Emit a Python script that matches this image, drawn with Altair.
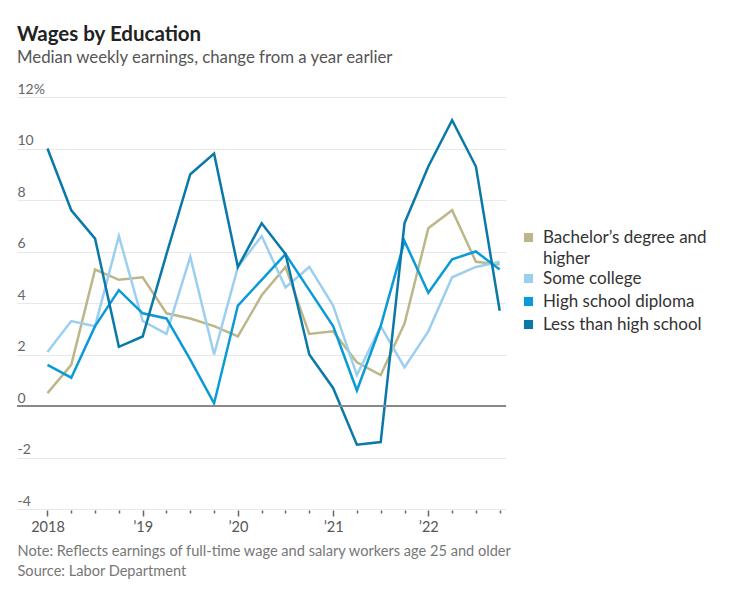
import altair as alt
import pandas as pd

# Quarterly, 2018 Q1 .. 2022 Q4
years = [2018, 2019, 2020, 2021, 2022]
quarters = [0, 1, 2, 3]
series_names = ["Bachelor’s degree and higher", "Some college",
                "High school diploma", "Less than high school"]
colors = ["#bdb689", "#9ccfef", "#0b9ad8", "#0a79a9"]

bachelor = [0.5, 1.6, 5.3, 4.9, 5.0, 3.6, 3.4, 3.1, 2.7, 4.3,
            5.4, 2.8, 2.9, 1.7, 1.2, 3.2, 6.9, 7.6, 5.6, 5.5]
some_college = [2.1, 3.3, 3.1, 6.6, 3.3, 2.8, 5.8, 2.0, 5.4, 6.6,
                4.6, 5.4, 3.9, 1.2, 3.1, 1.5, 2.9, 5.0, 5.4, 5.6]
high_school = [1.6, 1.1, 3.1, 4.5, 3.6, 3.4, 1.8, 0.1, 3.9, 4.9,
               5.9, 4.5, 3.1, 0.6, 3.1, 6.4, 4.4, 5.7, 6.0, 5.3]
less_hs = [10.0, 7.6, 6.5, 2.3, 2.7, 5.9, 9.0, 9.8, 5.4, 7.1,
           5.9, 2.0, 0.7, -1.5, -1.4, 7.1, 9.3, 11.1, 9.3, 3.7]

y_ticks = [-4, -2, 0, 2, 4, 6, 8, 10, 12]
x_ticks = [y + q / 4 for y in years for q in quarters]

times = [y + q / 4 for y in years for q in quarters]
rows = []
for name, vals in zip(series_names, [bachelor, some_college, high_school, less_hs]):
    for t, v in zip(times, vals):
        rows.append({"t": t, "v": v, "series": name})
df = pd.DataFrame(rows)

FONT = "Lato"

lines = alt.Chart(df).mark_line(strokeWidth=2.5, strokeJoin="miter").encode(
    x=alt.X("t:Q",
            scale=alt.Scale(domain=[2017.68, 2022.816], nice=False, zero=False),
            axis=alt.Axis(
                values=x_ticks,
                labelExpr="datum.value % 1 == 0 ? (datum.value == 2018 ? '2018' : \"’\" + substring(toString(datum.value), 2, 4)) : ''",
                grid=False, domain=False,
                tickSize={"condition": {"test": "datum.value % 1 == 0", "value": 6}, "value": 3},
                tickColor="#666", tickWidth=1.5, offset=1,
                labelFont=FONT, labelFontSize=14.5, labelColor="#555", labelPadding=4,
                title=["Note: Reflects earnings of full-time wage and salary workers age 25 and older",
                       "Source: Labor Department"],
                titleFont=FONT, titleFontSize=14.6, titleFontWeight="normal", titleColor="#777",
                titleAnchor="start", titleAlign="left", titleX=0, titleY=45,
                titleBaseline="alphabetic", titleLineHeight=20,
            )),
    y=alt.Y("v:Q",
            scale=alt.Scale(domain=[-4, 12], nice=False),
            axis=alt.Axis(
                values=y_ticks,
                labelExpr="datum.value == 12 ? '12%' : '' + datum.value",
                domain=False, ticks=False, tickSize=0,
                labelAlign="left", labelBaseline="alphabetic", labelPadding=0, labelOffset=-4,
                labelFont=FONT, labelFontSize=14, labelColor="#666",
                gridColor="#e8e8e8", gridWidth=1.2,
                title=None,
            )),
    color=alt.Color("series:N",
                    scale=alt.Scale(domain=series_names, range=colors),
                    sort=series_names,
                    legend=alt.Legend(
                        orient="none", legendX=503, legendY=132, title=None,
                        symbolType="square", symbolSize=20.7, symbolStrokeWidth=4.55,
                        labelFont=FONT, labelFontSize=17, labelColor="#333",
                        labelOffset=6, rowPadding=0, padding=0, labelLimit=300,
                        labelExpr="datum.label == 'Bachelor’s degree and higher' ? ['Bachelor’s degree and', 'higher'] : datum.label",
                    )),
)

zero = alt.Chart(pd.DataFrame({"v": [0]})).mark_rule(color="#888", strokeWidth=2).encode(
    y="v:Q"
)

chart = alt.layer(lines, zero).properties(
    width=489, height=412,
    padding={"left": 17, "top": 97, "right": 237, "bottom": 87},
    autosize=alt.AutoSizeParams(type="none"),
    title=alt.Title(
        "Wages by Education",
        subtitle="Median weekly earnings, change from a year earlier",
        anchor="start", frame="group", offset=15,
        font=FONT, fontSize=20.5, fontWeight="bold", color="#222",
        subtitleFont=FONT, subtitleFontSize=16.8, subtitleColor="#555", subtitlePadding=5,
    ),
).configure(style={"guide-label": {"lineHeight": 21}}).configure_view(stroke="transparent")

chart.save("out.html", embed_options={"renderer": "svg", "actions": False})
